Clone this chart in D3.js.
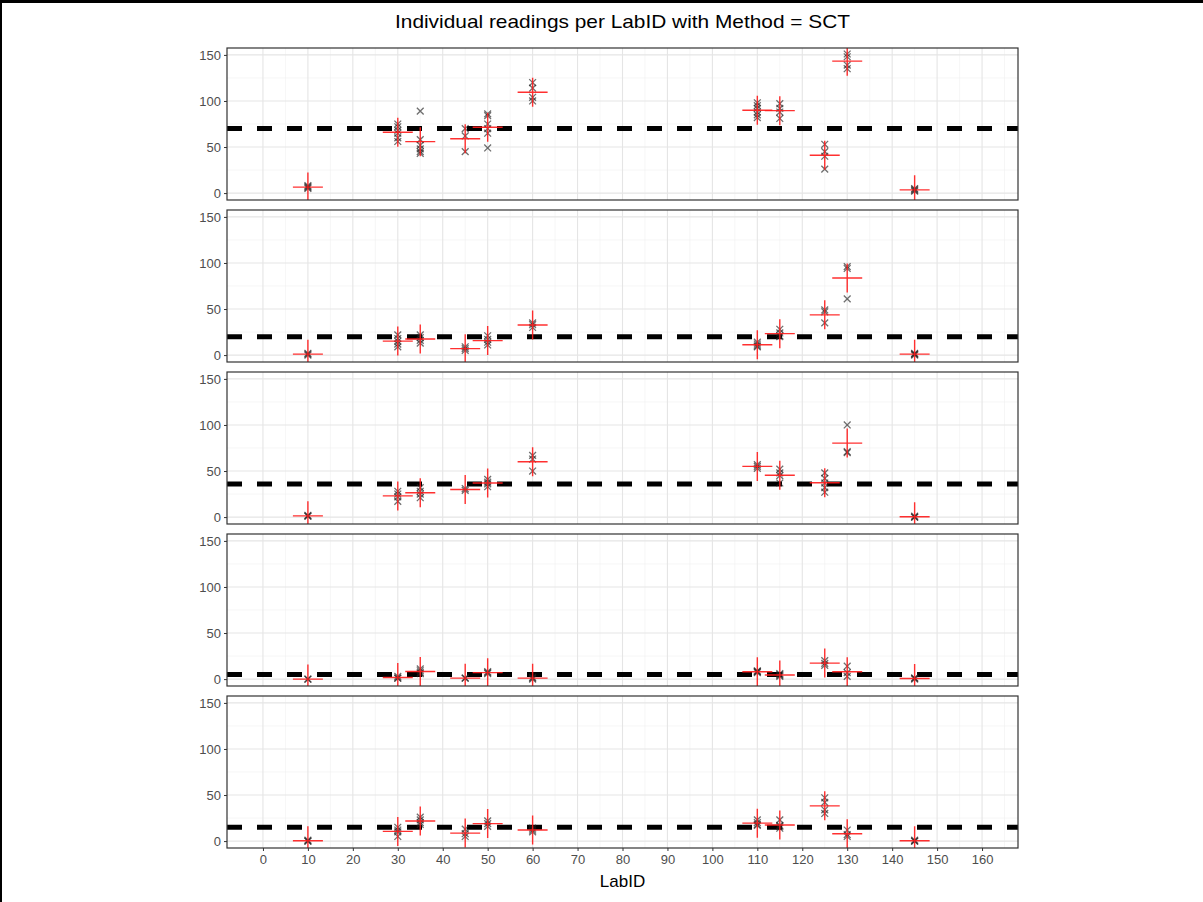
<!DOCTYPE html>
<html>
<head>
<meta charset="utf-8">
<script src="https://cdn.jsdelivr.net/npm/d3@7"></script>
<style>
  body { margin: 0; background: #fff; }
  svg { display: block; font-family: "Liberation Sans", Arial, sans-serif; }
</style>
</head>
<body>
<div id="vis"></div>
<script>
const width = 1203;
const height = 902;

const chartTitle = "Individual readings per LabID with Method = SCT";
const xLabel = "LabID";

// lab ids shared by every panel
const labIDs = [10, 30, 35, 45, 50, 60, 110, 115, 125, 130, 145];

// readings per lab, one array per panel (same order as labIDs)
const panel1 = [
  [5, 6, 7, 8],
  [75, 72, 68, 65, 60, 56],
  [89, 58, 52, 48, 45, 43],
  [70, 62, 45],
  [86, 84, 75, 70, 65, 49],
  [120, 114, 104, 100],
  [98, 95, 92, 88, 85, 82],
  [97, 92, 88, 81],
  [53, 45, 40, 26],
  [151, 148, 139, 135],
  [2, 3, 4, 5]
];
const panel2 = [
  [0, 1, 2],
  [22, 18, 15, 12, 9],
  [22, 19, 16, 13],
  [9, 7, 5],
  [21, 17, 14, 11],
  [35, 33, 30],
  [14, 12, 10, 9],
  [28, 24, 21, 20],
  [49, 47, 35],
  [96, 94, 61],
  [0, 1, 2, 1]
];
const panel3 = [
  [1, 2, 1],
  [28, 25, 22, 17],
  [32, 28, 25, 21],
  [31, 29],
  [41, 38, 36, 33],
  [67, 63, 50],
  [57, 55, 53],
  [52, 48, 45, 37],
  [48, 42, 37, 32, 27],
  [100, 71, 70],
  [0, 0, 1]
];
const panel4 = [
  [0, 0],
  [3, 1, 1],
  [11, 9, 7, 6],
  [1, 1],
  [8, 7, 6],
  [1, 0, 2],
  [9, 8, 7, 8],
  [5, 4, 6, 3],
  [20, 17, 15],
  [14, 7, 3],
  [1, 0, 1]
];
const panel5 = [
  [0, 1, 0],
  [15, 12, 10, 5],
  [26, 23, 20, 18],
  [13, 8, 5],
  [22, 19, 16],
  [14, 12, 10],
  [23, 20, 17, 18],
  [23, 17, 14, 16],
  [47, 42, 34, 30],
  [12, 7, 5],
  [0, 1, 0]
];
const panels = [panel1, panel2, panel3, panel4, panel5];

// dashed reference level per panel
const refLevels = [70, 20, 36, 5, 15];

const xTicks = d3.range(0, 161, 10);
const yTicks = [0, 50, 100, 150];

// layout
const left = 227, right = 1018;
const panelTop = 48, panelH = 152, panelGap = 10;

const svg = d3.select("#vis").append("svg")
  .attr("width", width)
  .attr("height", height);

svg.append("rect").attr("width", width).attr("height", height).attr("fill", "#fff");

// outer frame
svg.append("line").attr("x1", 0).attr("x2", width).attr("y1", 1.5).attr("y2", 1.5)
  .attr("stroke", "#000").attr("stroke-width", 3);
svg.append("line").attr("x1", 1).attr("x2", 1).attr("y1", 0).attr("y2", height)
  .attr("stroke", "#000").attr("stroke-width", 2);

svg.append("text")
  .attr("x", (left + right) / 2)
  .attr("y", 28)
  .attr("text-anchor", "middle")
  .attr("font-size", 19)
  .attr("textLength", 455)
  .attr("lengthAdjust", "spacingAndGlyphs")
  .attr("fill", "#000")
  .text(chartTitle);

const x = d3.scaleLinear().domain([-8, 168]).range([left, right]);

panels.forEach((readings, i) => {
  const top = panelTop + i * (panelH + panelGap);
  const y = d3.scaleLinear().domain([-7.5, 157.5]).range([top + panelH, top]);
  const g = svg.append("g");

  const clipId = "clip" + i;
  g.append("clipPath").attr("id", clipId)
    .append("rect").attr("x", left).attr("y", top)
    .attr("width", right - left).attr("height", panelH);

  // minor grid
  g.selectAll(".xminor").data(d3.range(5, 166, 10)).join("line")
    .attr("x1", d => x(d)).attr("x2", d => x(d))
    .attr("y1", top).attr("y2", top + panelH)
    .attr("stroke", "#f0f0f0").attr("stroke-width", 0.6);
  g.selectAll(".yminor").data([25, 75, 125]).join("line")
    .attr("x1", left).attr("x2", right)
    .attr("y1", d => y(d)).attr("y2", d => y(d))
    .attr("stroke", "#f0f0f0").attr("stroke-width", 0.6);
  // major grid
  g.selectAll(".xmajor").data(xTicks).join("line")
    .attr("x1", d => x(d)).attr("x2", d => x(d))
    .attr("y1", top).attr("y2", top + panelH)
    .attr("stroke", "#e5e5e5").attr("stroke-width", 1.1);
  g.selectAll(".ymajor").data(yTicks).join("line")
    .attr("x1", left).attr("x2", right)
    .attr("y1", d => y(d)).attr("y2", d => y(d))
    .attr("stroke", "#e5e5e5").attr("stroke-width", 1.1);

  const marks = g.append("g").attr("clip-path", `url(#${clipId})`);

  // dashed reference line
  marks.append("line")
    .attr("x1", left).attr("x2", right)
    .attr("y1", y(refLevels[i])).attr("y2", y(refLevels[i]))
    .attr("stroke", "#000").attr("stroke-width", 5)
    .attr("stroke-dasharray", "15,15");

  // individual readings as x marks
  const pts = [];
  readings.forEach((vals, j) => vals.forEach(v => pts.push({ lab: labIDs[j], v })));
  const s = 3.4;
  marks.selectAll(".pt").data(pts).join("path")
    .attr("d", d => {
      const cx = x(d.lab), cy = y(d.v);
      return `M${cx - s},${cy - s}L${cx + s},${cy + s}M${cx - s},${cy + s}L${cx + s},${cy - s}`;
    })
    .attr("stroke", "#222").attr("stroke-opacity", 0.65)
    .attr("stroke-width", 1.3).attr("fill", "none");

  // mean per lab as red cross
  const means = readings.map((vals, j) => ({ lab: labIDs[j], m: d3.mean(vals) }));
  marks.selectAll(".mean").data(means).join("path")
    .attr("d", d => {
      const cx = x(d.lab), cy = y(d.m);
      return `M${cx - 15},${cy}L${cx + 15},${cy}M${cx},${cy - 14.5}L${cx},${cy + 14.5}`;
    })
    .attr("stroke", "#ff1a1a").attr("stroke-opacity", 0.9)
    .attr("stroke-width", 1.4).attr("fill", "none");

  // panel border
  g.append("rect").attr("x", left).attr("y", top)
    .attr("width", right - left).attr("height", panelH)
    .attr("fill", "none").attr("stroke", "#333").attr("stroke-width", 1.2);

  // y axis
  const yAxis = g.append("g").attr("transform", `translate(${left},0)`)
    .call(d3.axisLeft(y).tickValues(yTicks).tickSize(3).tickPadding(3));
  yAxis.select(".domain").remove();
  yAxis.selectAll(".tick line").attr("stroke", "#333");
  yAxis.selectAll(".tick text").attr("fill", "#4d4d4d").attr("font-size", 13)
    .attr("font-family", "Liberation Sans, Arial, sans-serif");

  if (i === panels.length - 1) {
    const xAxis = g.append("g").attr("transform", `translate(0,${top + panelH})`)
      .call(d3.axisBottom(x).tickValues(xTicks).tickSize(3).tickPadding(4));
    xAxis.select(".domain").remove();
    xAxis.selectAll(".tick line").attr("stroke", "#333");
    xAxis.selectAll(".tick text").attr("fill", "#4d4d4d").attr("font-size", 13)
      .attr("font-family", "Liberation Sans, Arial, sans-serif");

    svg.append("text")
      .attr("x", (left + right) / 2)
      .attr("y", top + panelH + 39)
      .attr("text-anchor", "middle")
      .attr("font-size", 17)
      .attr("fill", "#000")
      .text(xLabel);
  }
});
</script>
</body>
</html>
